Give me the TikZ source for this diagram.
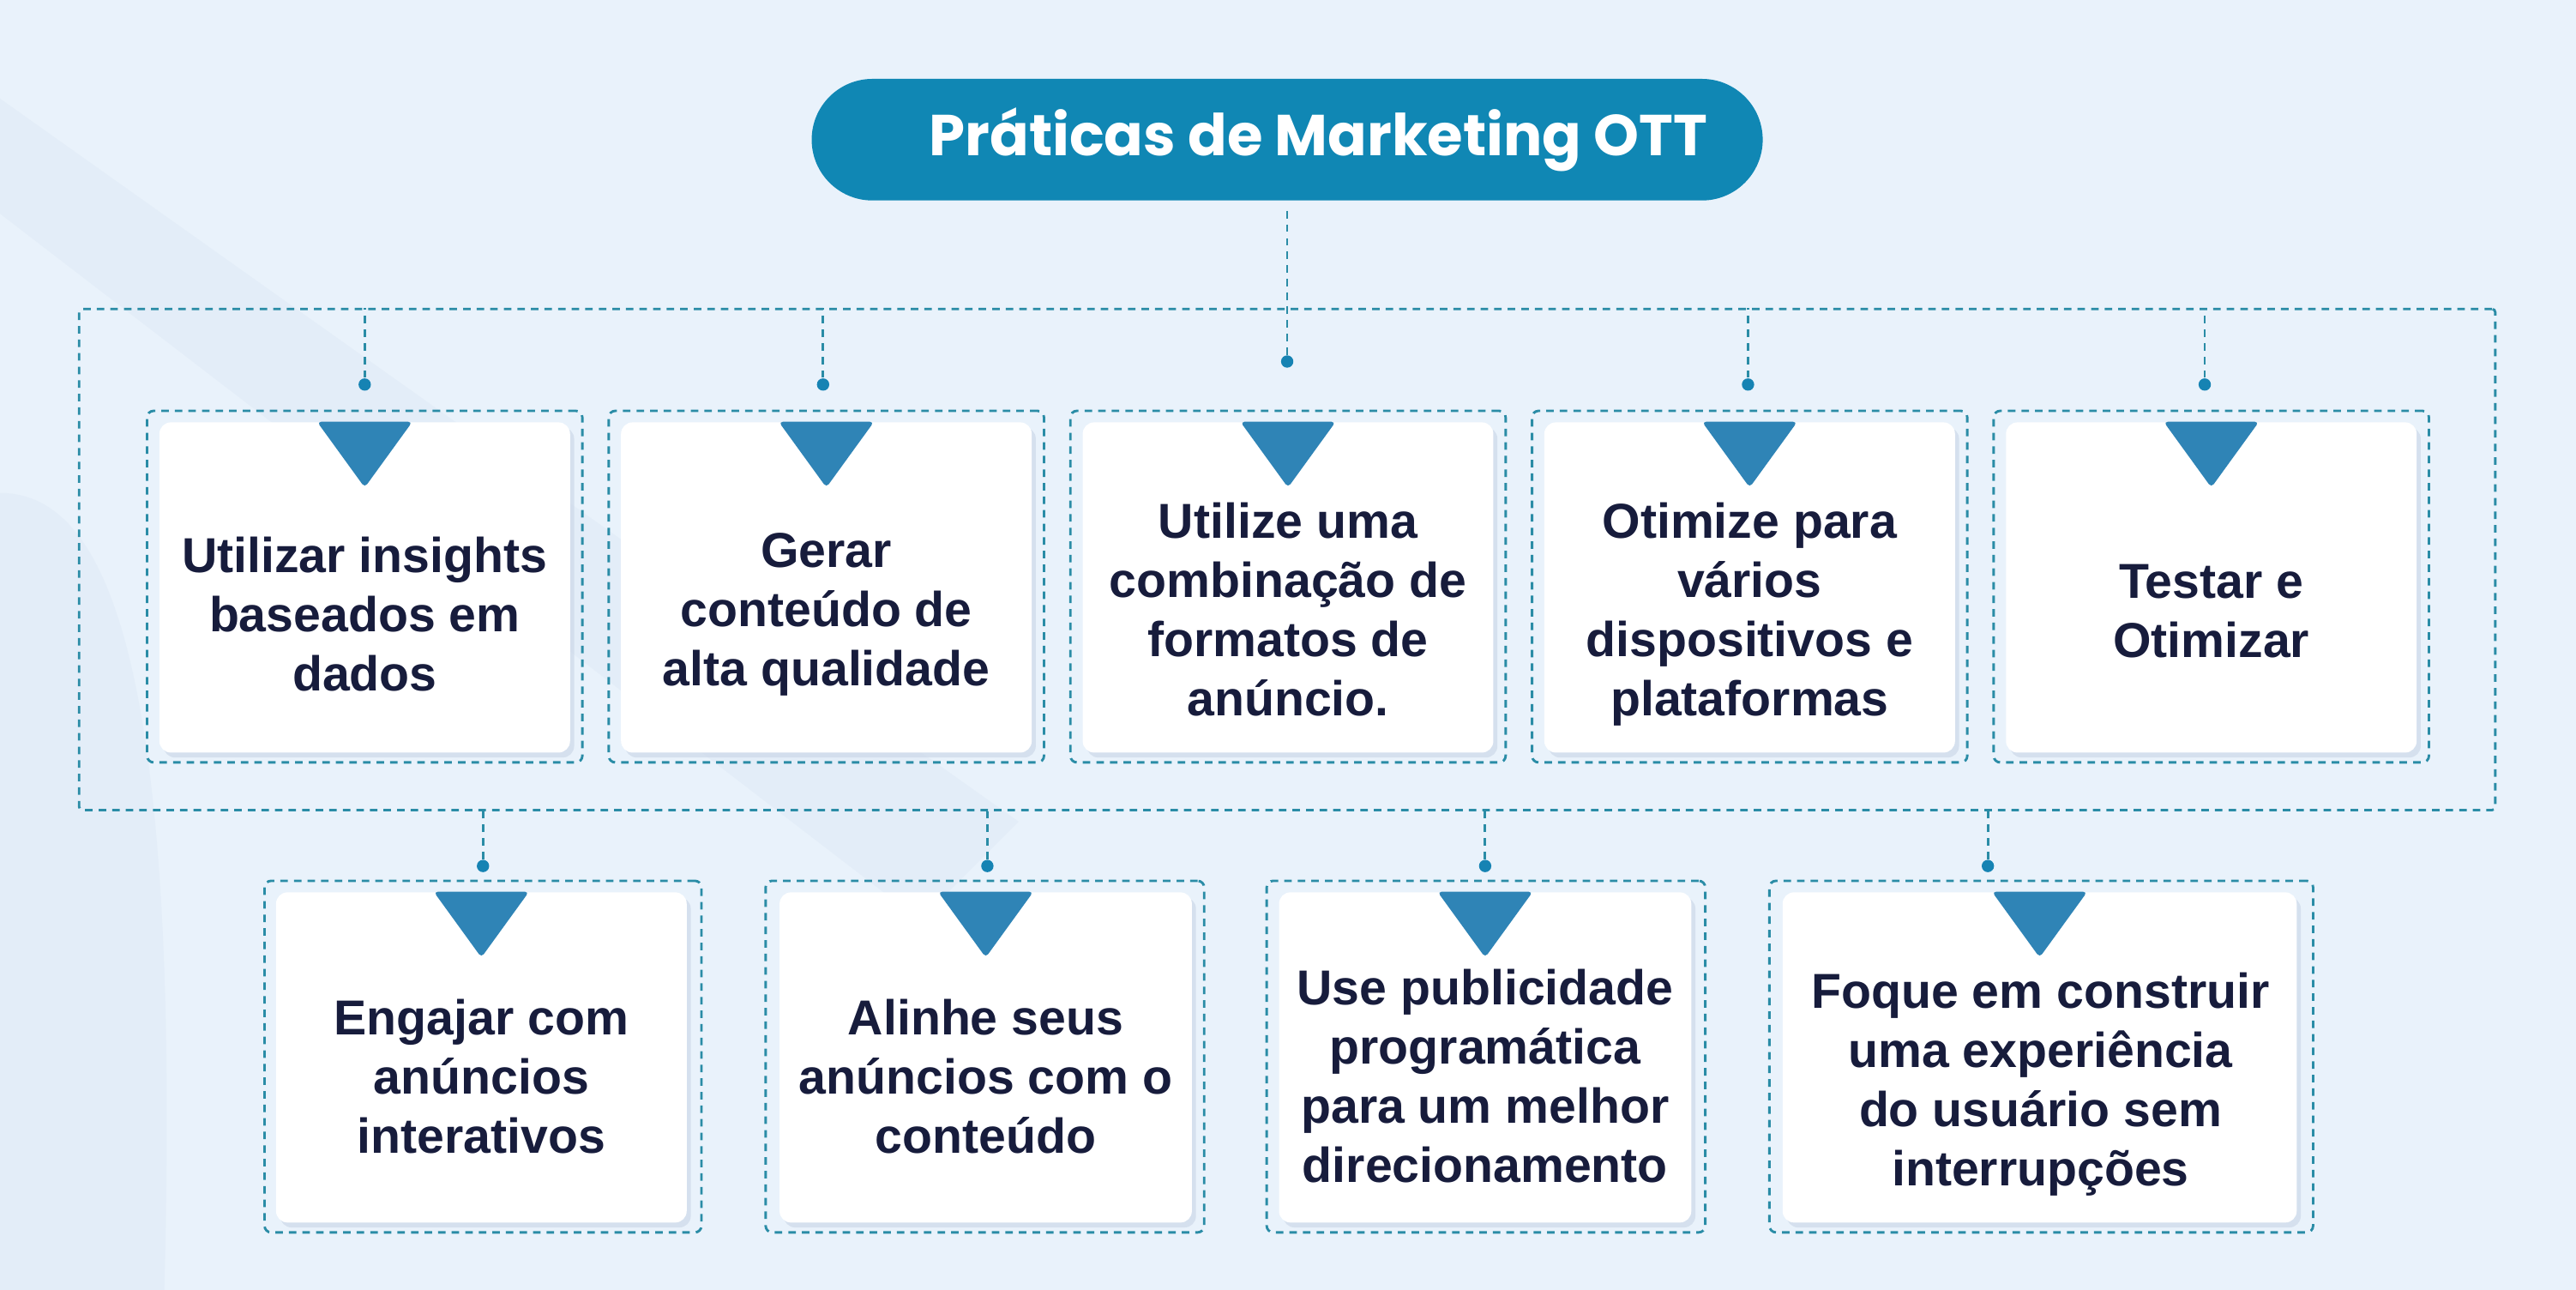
\documentclass[tikz,border=0pt]{standalone}
\usepackage{fontspec}
\setmainfont{Liberation Sans}
\newfontfamily\titlefont{Poppins}
\usetikzlibrary{shadows}

\definecolor{bgblue}{HTML}{E9F2FB}
\definecolor{bgband}{HTML}{DFEAF6}
\definecolor{pillblue}{HTML}{1087B4}
\definecolor{dashteal}{HTML}{2A8CA6}
\definecolor{dotblue}{HTML}{1683B3}
\definecolor{triblue}{HTML}{2F84B6}
\definecolor{inkblue}{HTML}{171C3C}
\definecolor{shadowblue}{HTML}{C9D5E6}

\begin{document}
\begin{tikzpicture}[x=0.02cm, y=-0.02cm,
  link/.style={draw=dashteal, line width=0.85pt, dash pattern=on 2.6pt off 2.1pt},
  outerbox/.style={draw=dashteal, line width=0.85pt, dash pattern=on 2.6pt off 2.1pt, rounded corners=0.08cm, minimum height=4.28cm, inner sep=0pt},
  card/.style={fill=white, rounded corners=0.14cm, minimum height=4.02cm, inner sep=0pt, drop shadow={shadow xshift=0.05cm, shadow yshift=-0.06cm, fill=shadowblue, opacity=0.6}},
  cardtext/.style={text=inkblue, font=\fontsize{17}{20.5}\selectfont\bfseries, align=center},
  dot/.style={circle, fill=dotblue, minimum size=0.15cm, inner sep=0pt},
  tri/.style={fill=triblue, rounded corners=0.05cm},
  pill/.style={fill=pillblue, rounded corners=0.74cm, minimum width=11.58cm, minimum height=1.48cm, inner sep=0pt},
  titletext/.style={text=white, font=\titlefont\bfseries\fontsize{20}{24}\selectfont}
]

% Background
\fill[bgblue] (0,0) rectangle (1568,785);
\fill[bgband, opacity=0.6] (0,60) -- (0,130) -- (560,560) -- (620,500) -- cycle;
\fill[bgband, opacity=0.6] (0,300) .. controls (70,300) and (110,420) .. (100,785) -- (0,785) -- cycle;

% Title
\node[pill] (title) at (783.5,85) {};
\node[titletext] (title_txt) at ([xshift=0.38cm]title.center) {Práticas de Marketing OTT};

% Dashed hub frame
\node[draw=dashteal, line width=0.85pt, dash pattern=on 2.6pt off 2.1pt, rounded corners=0.04cm, minimum width=29.42cm, minimum height=6.1cm, inner sep=0pt] (hub) at (783.5,340.5) {};
\draw[link, shorten <=0.12cm] (title.south) -- (title.south |- hub.north);

% Top row
\node[outerbox, minimum width=5.3cm] (o1) at (222,357) {};
\node[card, minimum width=5.0cm] (c1) at (222,357.5) {};
\path[tri] (c1.north) ++(-29,0) -- ++(58,0) -- ++(-29,40) -- cycle;
\node[cardtext] (t1) at (222,374) {Utilizar insights\\baseados em\\dados};
\node[dot] (d1) at (222,234) {};
\draw[link] (d1) -- (d1 |- hub.north);

\node[outerbox, minimum width=5.3cm] (o2) at (503,357) {};
\node[card, minimum width=5.0cm] (c2) at (503,357.5) {};
\path[tri] (c2.north) ++(-29,0) -- ++(58,0) -- ++(-29,40) -- cycle;
\node[cardtext] (t2) at (503,374) {Gerar\\conteúdo de\\alta qualidade};
\node[dot] (d2) at (501,234) {};
\draw[link] (d2) -- (d2 |- hub.north);

\node[outerbox, minimum width=5.3cm] (o3) at (784,357) {};
\node[card, minimum width=5.0cm] (c3) at (784,357.5) {};
\path[tri] (c3.north) ++(-29,0) -- ++(58,0) -- ++(-29,40) -- cycle;
\node[cardtext] (t3) at (784,371) {Utilize uma\\combinação de\\formatos de\\anúncio.};
\node[dot] (d3) at (783.5,220) {};
\draw[link] (d3) -- (d3 |- hub.north);

\node[outerbox, minimum width=5.3cm] (o4) at (1065,357) {};
\node[card, minimum width=5.0cm] (c4) at (1065,357.5) {};
\path[tri] (c4.north) ++(-29,0) -- ++(58,0) -- ++(-29,40) -- cycle;
\node[cardtext] (t4) at (1065,374) {Otimize para\\vários\\dispositivos e\\plataformas};
\node[dot] (d4) at (1064,234) {};
\draw[link] (d4) -- (d4 |- hub.north);

\node[outerbox, minimum width=5.3cm] (o5) at (1346,357) {};
\node[card, minimum width=5.0cm] (c5) at (1346,357.5) {};
\path[tri] (c5.north) ++(-29,0) -- ++(58,0) -- ++(-29,40) -- cycle;
\node[cardtext] (t5) at (1346,372) {Testar e\\Otimizar};
\node[dot] (d5) at (1342,234) {};
\draw[link] (d5) -- (d5 |- hub.north);

% Bottom row
\node[outerbox, minimum width=5.32cm] (o6) at (294,643) {};
\node[card, minimum width=5.0cm] (c6) at (293,643.5) {};
\path[tri] (c6.north) ++(-29,0) -- ++(58,0) -- ++(-29,40) -- cycle;
\node[cardtext] (t6) at (293,655) {Engajar com\\anúncios\\interativos};
\node[dot] (d6) at (294,527) {};
\draw[link] (d6) -- (d6 |- hub.south);

\node[outerbox, minimum width=5.34cm] (o7) at (599.5,643) {};
\node[card, minimum width=5.02cm] (c7) at (600,643.5) {};
\path[tri] (c7.north) ++(-29,0) -- ++(58,0) -- ++(-29,40) -- cycle;
\node[cardtext] (t7) at (600,655) {Alinhe seus\\anúncios com o\\conteúdo};
\node[dot] (d7) at (601,527) {};
\draw[link] (d7) -- (d7 |- hub.south);

\node[outerbox, minimum width=5.34cm] (o8) at (904.5,643) {};
\node[card, minimum width=5.02cm] (c8) at (904,643.5) {};
\path[tri] (c8.north) ++(-29,0) -- ++(58,0) -- ++(-29,40) -- cycle;
\node[cardtext] (t8) at (904,655) {Use publicidade\\programática\\para um melhor\\direcionamento};
\node[dot] (d8) at (904,527) {};
\draw[link] (d8) -- (d8 |- hub.south);

\node[outerbox, minimum width=6.62cm] (o9) at (1242.5,643) {};
\node[card, minimum width=6.26cm] (c9) at (1241.5,643.5) {};
\path[tri] (c9.north) ++(-29,0) -- ++(58,0) -- ++(-29,40) -- cycle;
\node[cardtext] (t9) at (1242,660) {Foque em construir\\uma experiência\\do usuário sem\\interrupções};
\node[dot] (d9) at (1210,527) {};
\draw[link] (d9) -- (d9 |- hub.south);

\end{tikzpicture}
\end{document}
